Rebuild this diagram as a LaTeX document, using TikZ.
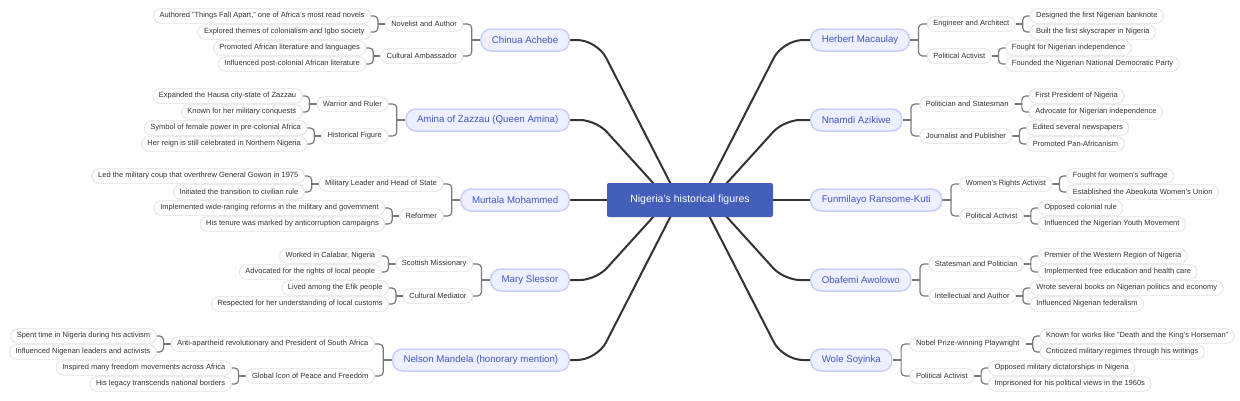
\documentclass[tikz,border=0pt]{standalone}
\usepackage{fontspec}
\setmainfont{Liberation Sans}
\usetikzlibrary{calc}
\pgfdeclarelayer{bg}
\pgfsetlayers{bg,main}
\definecolor{rootblue}{RGB}{67,95,186}
\definecolor{lonefill}{RGB}{238,240,255}
\definecolor{loneline}{RGB}{200,207,248}
\definecolor{lonetext}{RGB}{65,87,192}
\definecolor{leafline}{RGB}{226,226,226}
\definecolor{txtcol}{RGB}{51,51,51}
\definecolor{edgecol}{RGB}{51,51,51}
\definecolor{conncol}{RGB}{120,120,120}
\tikzset{
 rootbox/.style={fill=rootblue, text=white, rounded corners=2pt, minimum width=166pt, minimum height=34pt, font=\fontsize{10.5}{12}\selectfont},
 lone/.style={fill=lonefill, draw=loneline, line width=1.5pt, rounded corners=10pt, minimum height=22pt, inner xsep=11pt, text=lonetext, font=\fontsize{9.7}{11}\selectfont},
 leafbox/.style={fill=white, draw=leafline, line width=0.8pt, rounded corners=7pt, minimum height=14.5pt, inner ysep=1pt, inner xsep=6pt, text=txtcol, font=\fontsize{7.5}{8.5}\selectfont},
 mainedge/.style={draw=edgecol, line width=2pt},
 conn/.style={draw=conncol, line width=1.2pt},
}
\newcommand{\elbowR}[3]{%
 \begin{pgfonlayer}{bg}
 \draw[conn] (#1.east) -- ($(#1.east)!0.5!(#1.east -| #2.west)$) coordinate (#1j);
 \draw[conn, rounded corners=4pt] (#2.west) -- (#2.west -| #1j) -- (#3.west -| #1j) -- (#3.west);
 \end{pgfonlayer}}
\newcommand{\elbowL}[3]{%
 \begin{pgfonlayer}{bg}
 \draw[conn] (#1.west) -- ($(#1.west)!0.5!(#1.west -| #2.east)$) coordinate (#1j);
 \draw[conn, rounded corners=4pt] (#2.east) -- (#2.east -| #1j) -- (#3.east -| #1j) -- (#3.east);
 \end{pgfonlayer}}
\newcommand{\figR}[9]{%
 \node[lone, anchor=west] (#1) at (810,#2) {#3};
 \node[leafbox, anchor=west] (#1a) at ($(#1.east)+(17,-16)$) {#4};
 \node[leafbox, anchor=west] (#1b) at ($(#1.east)+(17,16)$) {#5};
 \node[leafbox, anchor=west] (#1a1) at ($(#1a.east)+(14,-8)$) {#6};
 \node[leafbox, anchor=west] (#1a2) at ($(#1a.east)+(14,8)$) {#7};
 \node[leafbox, anchor=west] (#1b1) at ($(#1b.east)+(14,-8)$) {#8};
 \node[leafbox, anchor=west] (#1b2) at ($(#1b.east)+(14,8)$) {#9};
 \elbowR{#1}{#1a}{#1b}\elbowR{#1a}{#1a1}{#1a2}\elbowR{#1b}{#1b1}{#1b2}}
\newcommand{\figL}[9]{%
 \node[lone, anchor=east] (#1) at (570,#2) {#3};
 \node[leafbox, anchor=east] (#1a) at ($(#1.west)+(-17,-16)$) {#4};
 \node[leafbox, anchor=east] (#1b) at ($(#1.west)+(-17,16)$) {#5};
 \node[leafbox, anchor=east] (#1a1) at ($(#1a.west)+(-14,-8)$) {#6};
 \node[leafbox, anchor=east] (#1a2) at ($(#1a.west)+(-14,8)$) {#7};
 \node[leafbox, anchor=east] (#1b1) at ($(#1b.west)+(-14,-8)$) {#8};
 \node[leafbox, anchor=east] (#1b2) at ($(#1b.west)+(-14,8)$) {#9};
 \elbowL{#1}{#1a}{#1b}\elbowL{#1a}{#1a1}{#1a2}\elbowL{#1b}{#1b1}{#1b2}}
\begin{document}
\begin{tikzpicture}[x=1pt,y=-1pt]
\useasboundingbox (0,0) rectangle (1240,400);
\begin{pgfonlayer}{bg}
\fill[white] (0,0) rectangle (1240,400);
\end{pgfonlayer}
\node[rootbox] (root) at (690,200) {Nigeria's historical figures};
\figR{H}{40}{Herbert Macaulay}{Engineer and Architect}{Political Activist}{Designed the first Nigerian banknote}{Built the first skyscraper in Nigeria}{Fought for Nigerian independence}{Founded the Nigerian National Democratic Party}
\figR{N}{120}{Nnamdi Azikiwe}{Politician and Statesman}{Journalist and Publisher}{First President of Nigeria}{Advocate for Nigerian independence}{Edited several newspapers}{Promoted Pan-Africanism}
\figR{F}{200}{Funmilayo Ransome-Kuti}{Women's Rights Activist}{Political Activist}{Fought for women's suffrage}{Established the Abeokuta Women's Union}{Opposed colonial rule}{Influenced the Nigerian Youth Movement}
\figR{O}{280}{Obafemi Awolowo}{Statesman and Politician}{Intellectual and Author}{Premier of the Western Region of Nigeria}{Implemented free education and health care}{Wrote several books on Nigerian politics and economy}{Influenced Nigerian federalism}
\figR{W}{360}{Wole Soyinka}{Nobel Prize-winning Playwright}{Political Activist}{Known for works like "Death and the King's Horseman"}{Criticized military regimes through his writings}{Opposed military dictatorships in Nigeria}{Imprisoned for his political views in the 1960s}
\figL{C}{40}{Chinua Achebe}{Novelist and Author}{Cultural Ambassador}{Authored "Things Fall Apart," one of Africa's most read novels}{Explored themes of colonialism and Igbo society}{Promoted African literature and languages}{Influenced post-colonial African literature}
\figL{A}{120}{Amina of Zazzau (Queen Amina)}{Warrior and Ruler}{Historical Figure}{Expanded the Hausa city-state of Zazzau}{Known for her military conquests}{Symbol of female power in pre-colonial Africa}{Her reign is still celebrated in Northern Nigeria}
\figL{M}{200}{Murtala Mohammed}{Military Leader and Head of State}{Reformer}{Led the military coup that overthrew General Gowon in 1975}{Initiated the transition to civilian rule}{Implemented wide-ranging reforms in the military and government}{His tenure was marked by anticorruption campaigns}
\figL{S}{280}{Mary Slessor}{Scottish Missionary}{Cultural Mediator}{Worked in Calabar, Nigeria}{Advocated for the rights of local people}{Lived among the Efik people}{Respected for her understanding of local customs}
\figL{L}{360}{Nelson Mandela (honorary mention)}{Anti-apartheid revolutionary and President of South Africa}{Global Icon of Peace and Freedom}{Spent time in Nigeria during his activism}{Influenced Nigerian leaders and activists}{Inspired many freedom movements across Africa}{His legacy transcends national borders}
\begin{pgfonlayer}{bg}
\draw[mainedge, rounded corners=20pt] ($(root.center)+(11,0)$) -- ($(H.west)+(-27,0)$) -- (H.west);
\draw[mainedge, rounded corners=16pt] ($(root.center)+(21.5,0)$) -- ($(N.west)+(-26,0)$) -- (N.west);
\draw[mainedge] (root.east) -- (F.west);
\draw[mainedge, rounded corners=16pt] ($(root.center)+(21.5,0)$) -- ($(O.west)+(-26,0)$) -- (O.west);
\draw[mainedge, rounded corners=20pt] ($(root.center)+(11,0)$) -- ($(W.west)+(-27,0)$) -- (W.west);
\draw[mainedge, rounded corners=20pt] ($(root.center)+(-11,0)$) -- ($(C.east)+(27,0)$) -- (C.east);
\draw[mainedge, rounded corners=16pt] ($(root.center)+(-21.5,0)$) -- ($(A.east)+(26,0)$) -- (A.east);
\draw[mainedge] (root.west) -- (M.east);
\draw[mainedge, rounded corners=16pt] ($(root.center)+(-21.5,0)$) -- ($(S.east)+(26,0)$) -- (S.east);
\draw[mainedge, rounded corners=20pt] ($(root.center)+(-11,0)$) -- ($(L.east)+(27,0)$) -- (L.east);
\end{pgfonlayer}
\end{tikzpicture}
\end{document}
